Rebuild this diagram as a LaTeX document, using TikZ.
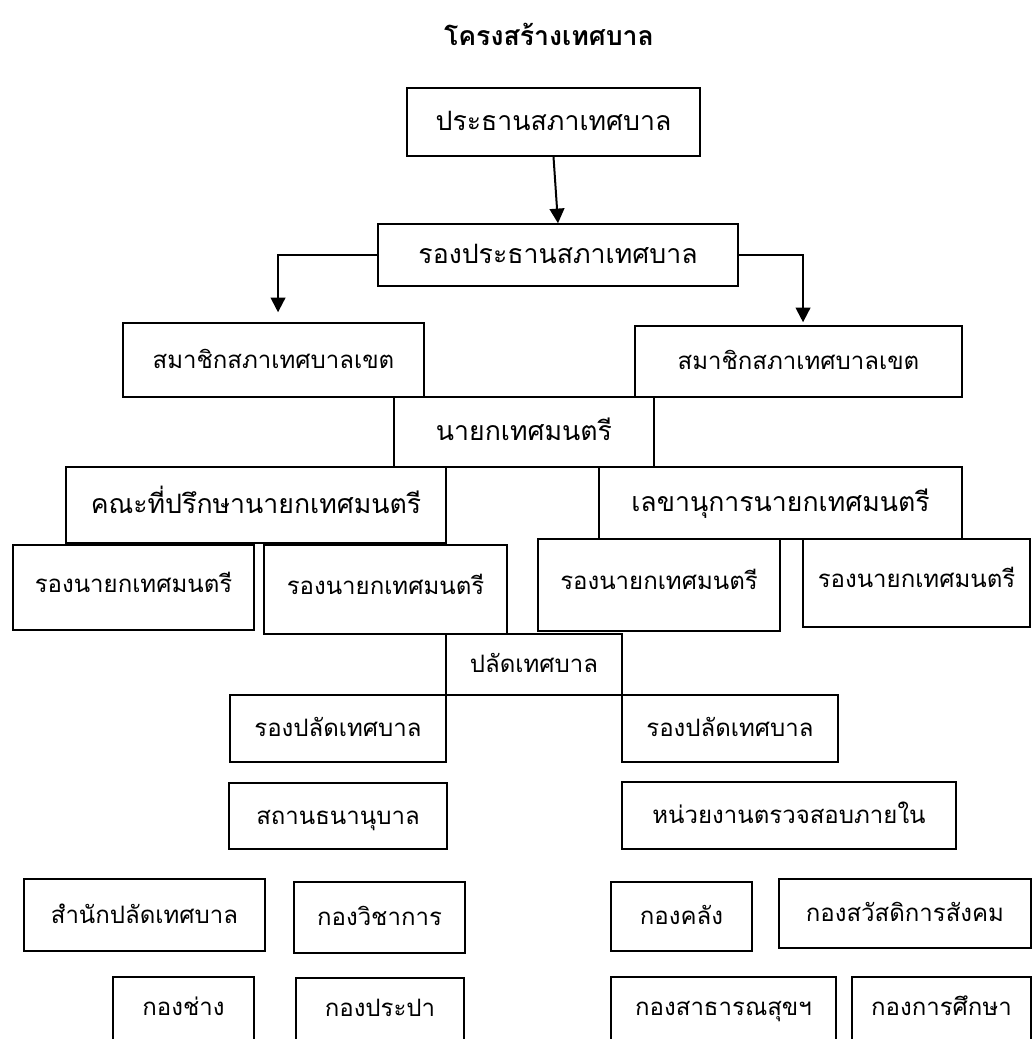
\documentclass[tikz,border=0pt]{standalone}
\usepackage{fontspec}
\setmainfont[Script=Thai]{Loma}
\usetikzlibrary{arrows.meta}

\begin{document}
\begin{tikzpicture}[x=0.75pt,y=-0.75pt,
    box/.style={draw=black, line width=1.1pt, inner sep=0pt, text height=1.2em, text depth=0pt},
    raised/.style={text height=2ex, text depth=0.6ex},
    big/.style={font=\fontsize{20}{24}\selectfont},
    small/.style={font=\fontsize{18}{22}\selectfont},
    link/.style={draw=black, line width=1.5pt, -{Triangle[width=11pt,length=11pt]}}]
    \clip (0,0) rectangle (1035,1039);
    \node[font=\fontsize{20}{24}\selectfont\bfseries] (title) at (549,34) {โครงสร้างเทศบาล};
    % council
    \node[box,big,minimum width=219.75pt,minimum height=51pt] (pres) at (553.5,122) {ประธานสภาเทศบาล};
    \node[box,big,minimum width=270pt,minimum height=46.5pt] (vpres) at (558,255) {รองประธานสภาเทศบาล};
    \node[box,small,minimum width=225.75pt,minimum height=55.5pt] (memL) at (273.5,360) {สมาชิกสภาเทศบาลเขต};
    \node[box,small,minimum width=245.25pt,minimum height=53.25pt] (memR) at (798.5,361.5) {สมาชิกสภาเทศบาลเขต};
    \draw[link] (pres.south) -- (vpres.north);
    \draw[link] (vpres.west) -| ([xshift=3.4pt,yshift=7.5pt]memL.north);
    \draw[link] (vpres.east) -| ([xshift=3.4pt,yshift=2.25pt]memR.north);
    % mayor
    \node[box,big,minimum width=195pt,minimum height=52.5pt] (mayor) at (524,432) {นายกเทศมนตรี};
    \node[box,big,minimum width=285pt,minimum height=57pt] (advis) at (256,505) {คณะที่ปรึกษานายกเทศมนตรี};
    \node[box,big,minimum width=272.25pt,minimum height=54pt] (secr) at (780.5,503) {เลขานุการนายกเทศมนตรี};
    \node[box,raised,small,minimum width=180.75pt,minimum height=63.75pt] (dmA) at (133.5,587.5) {รองนายกเทศมนตรี};
    \node[box,raised,small,minimum width=182.25pt,minimum height=66.75pt] (dmB) at (385.5,589.5) {รองนายกเทศมนตรี};
    \node[box,raised,small,minimum width=181.5pt,minimum height=69pt] (dmC) at (659,585) {รองนายกเทศมนตรี};
    \node[box,raised,small,minimum width=170.25pt,minimum height=66pt] (dmD) at (916.5,583) {รองนายกเทศมนตรี};
    % clerk
    \node[box,small,minimum width=132pt,minimum height=45.75pt] (clerk) at (534,664.5) {ปลัดเทศบาล};
    \node[box,small,minimum width=162pt,minimum height=50.25pt] (dcL) at (338,728.5) {รองปลัดเทศบาล};
    \node[box,small,minimum width=162pt,minimum height=50.25pt] (dcR) at (730,728.5) {รองปลัดเทศบาล};
    \node[box,small,minimum width=163.5pt,minimum height=49.5pt] (pawn) at (338,816) {สถานธนานุบาล};
    \node[box,small,minimum width=250.5pt,minimum height=50.25pt] (audit) at (789,815.5) {หน่วยงานตรวจสอบภายใน};
    % divisions
    \node[box,small,minimum width=180.75pt,minimum height=54pt] (office) at (144.5,915) {สำนักปลัดเทศบาล};
    \node[box,small,minimum width=128.25pt,minimum height=53.25pt] (acad) at (379.5,917.5) {กองวิชาการ};
    \node[box,small,minimum width=105.75pt,minimum height=51.75pt] (fin) at (681.5,916.5) {กองคลัง};
    \node[box,small,minimum width=189pt,minimum height=51.75pt] (welf) at (905,913.5) {กองสวัสดิการสังคม};
    \node[box,raised,small,minimum width=105.75pt,minimum height=51pt] (eng) at (183.5,1011) {กองช่าง};
    \node[box,raised,small,minimum width=126pt,minimum height=50.25pt] (water) at (380,1011.5) {กองประปา};
    \node[box,raised,small,minimum width=168.75pt,minimum height=51pt] (health) at (723.5,1011) {กองสาธารณสุขฯ};
    \node[box,raised,small,minimum width=134.25pt,minimum height=51pt] (edu) at (941.5,1011) {กองการศึกษา};
\end{tikzpicture}
\end{document}
